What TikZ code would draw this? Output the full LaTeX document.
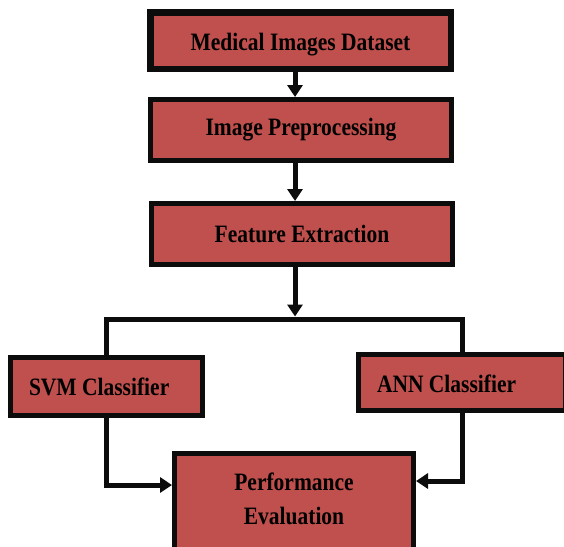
\documentclass[tikz,border=0pt]{standalone}
\usepackage{xcolor}
\usepackage{fontspec}
\usepackage{tikz}
\usetikzlibrary{arrows.meta, positioning}
\newfontfamily\boxfont[FakeStretch=0.86]{Liberation Serif}
\definecolor{boxred}{RGB}{192, 80, 77}
\definecolor{edgedark}{RGB}{12, 12, 12}
\newcommand{\classlabel}[2]{\makebox[#1][l]{#2}}

\tikzset{
    stagebox/.style={
        draw=edgedark,
        fill=boxred,
        line width=5pt,
        minimum width=301pt,
        minimum height=61pt,
        inner sep=0pt,
        font=\boxfont\bfseries\fontsize{25}{34}\selectfont
    },
    classbox/.style={
        stagebox,
        minimum width=0pt,
        inner xsep=18.5pt
    },
    wire/.style={draw=edgedark, line width=5pt},
    flow/.style={wire, -{Triangle[length=12pt, width=15pt]}}
}

\begin{document}
\begin{tikzpicture}[x=1pt, y=-1pt]
    \useasboundingbox (0,0) rectangle (564,546);
    \clip (0,0) rectangle (564,546);

    \node[
        stagebox,
        line width=6.5pt,
        minimum width=300.5pt,
        minimum height=56.5pt,
        text height=25pt,
        text depth=6pt
    ] (data) at (300.5,40.5) {Medical Images Dataset};
    \node[stagebox] (prep) at (301,130) {Image Preprocessing};
    \node[stagebox] (feat) at (302,234) {Feature Extraction};

    \node[classbox, minimum height=58pt] (svm) at (106.5,386.5) {\classlabel{155pt}{SVM Classifier}};
    \node[classbox, minimum height=56pt, text height=20pt] (ann) at (462,382.5) {\classlabel{170pt}{ANN Classifier}};

    \node[
        stagebox,
        minimum width=239pt,
        minimum height=110pt,
        align=center,
        text depth=20pt
    ] (perf) at (294,508.5) {Performance\\Evaluation};

    \coordinate (fork) at (295,319);

    \draw[flow] (data.south -| fork) -- (prep.north -| fork);
    \draw[flow] (prep.south -| fork) -- (feat.north -| fork);
    \draw[flow] (feat.south -| fork) -- ([yshift=2.5pt]fork);
    \draw[wire] (svm.north) |- (fork) -| (ann.north);
    \draw[flow] (svm.south) |- ([yshift=23.5pt]perf.west);
    \draw[flow] (ann.south) |- ([yshift=27.5pt]perf.east);
\end{tikzpicture}
\end{document}
